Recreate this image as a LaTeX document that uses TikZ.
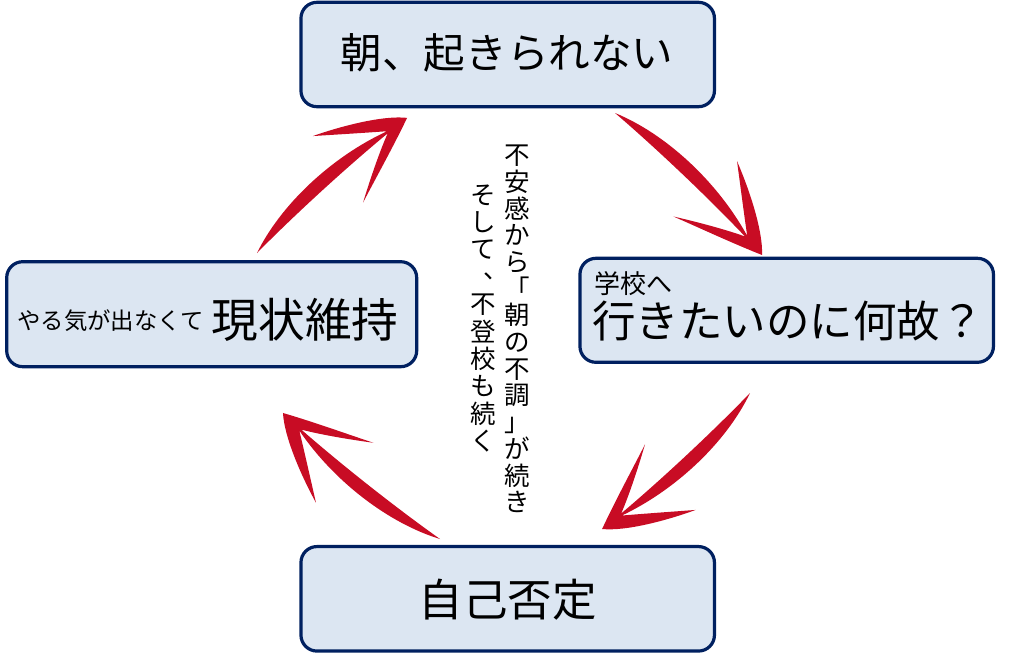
\documentclass[tikz,border=0pt]{standalone}
\usepackage{fontspec}
\usepackage{graphicx}
\setmainfont{Noto Sans CJK JP}
\definecolor{boxfill}{RGB}{220,230,242}
\definecolor{boxline}{RGB}{0,32,96}
\definecolor{arrowred}{RGB}{200,12,36}
\tikzset{
  cyclebox/.style={draw=boxline, fill=boxfill, line width=3.2pt, rounded corners=16pt, inner sep=0pt, outer sep=0pt},
  boxtext/.style={inner sep=0pt, text=black},
  vtext/.style={inner sep=0pt, align=center, text=black},
  swoosh/.style={fill=arrowred}
}
\newcommand\vcomma{\makebox[1em][l]{\hspace{0.5em}\makebox[0.5em][l]{\raisebox{0.32em}{、}}}}
\newcommand\swooshshape{(0,0) .. controls (50,20) and (120,22) .. (180,3.5)
  .. controls (160,19) and (140,35) .. (121,50)
  .. controls (150,38) and (188,18) .. (204,0)
  .. controls (175,-12) and (140,-24) .. (113.7,-33.8)
  .. controls (135,-21) and (160,-7) .. (179,1.5)
  .. controls (120,4) and (50,3) .. (0,0) -- cycle}
\begin{document}
\begin{tikzpicture}[x=1pt,y=1pt]
\useasboundingbox (0,0) rectangle (1024,-654);
% boxes
\node[cyclebox, minimum width=413.5pt, minimum height=104.4pt] (top) at (507.7,-54.5) {};
\node[cyclebox, minimum width=413.5pt, minimum height=104pt] (right) at (786.7,-310.3) {};
\node[cyclebox, minimum width=413.5pt, minimum height=104.5pt] (bottom) at (507.7,-598.8) {};
\node[cyclebox, minimum width=410pt, minimum height=105pt] (left) at (211.7,-314.2) {};
% texts
\node[boxtext, font=\fontsize{41.6}{44}\selectfont] (toptext) at (507,-52.5) {朝、起きられない};
\node[boxtext, font=\fontsize{44.5}{48}\selectfont] (bottomtext) at (507.5,-600) {自己否定};
\node[boxtext, font=\fontsize{26}{28}\selectfont] (rightsmall) at (633,-283.5) {学校へ};
\node[boxtext, font=\fontsize{43.5}{46}\selectfont] (rightbig) at (788,-321.5) {行きたいのに何故？};
\node[boxtext, font=\fontsize{23.4}{26}\selectfont] (leftsmall) at (110.5,-321) {やる気が出なくて};
\node[boxtext, font=\fontsize{46.7}{50}\selectfont] (leftbig) at (305,-319.5) {現状維持};
% vertical texts
\node[vtext, font=\fontsize{25.5}{26.7}\selectfont] (vright) at (517.5,-329) {不\\安\\感\\か\\ら\\「\\朝\\の\\不\\調\\」\\が\\続\\き};
\node[vtext, font=\fontsize{25.5}{27.4}\selectfont] (vleft) at (483,-318.5) {そ\\し\\て\\\vcomma\\不\\登\\校\\も\\続\\く};
% arrow anchor coordinates
\coordinate (a1) at (615,-113);
\coordinate (a2) at (750,-393);
\coordinate (a3) at (440,-539);
\coordinate (a4) at (257,-253);
% swoosh arrows
\fill[swoosh, shift={(a1)}, rotate=-44.0, scale=1.002] \swooshshape;
\fill[swoosh, shift={(a2)}, rotate=-137.4, scale=0.985] \swooshshape;
\fill[swoosh, shift={(a3)}, rotate=141.25, scale=0.987] \swooshshape;
\fill[swoosh, shift={(a4)}, rotate=42.0, scale=0.99] \swooshshape;
\end{tikzpicture}
\end{document}
